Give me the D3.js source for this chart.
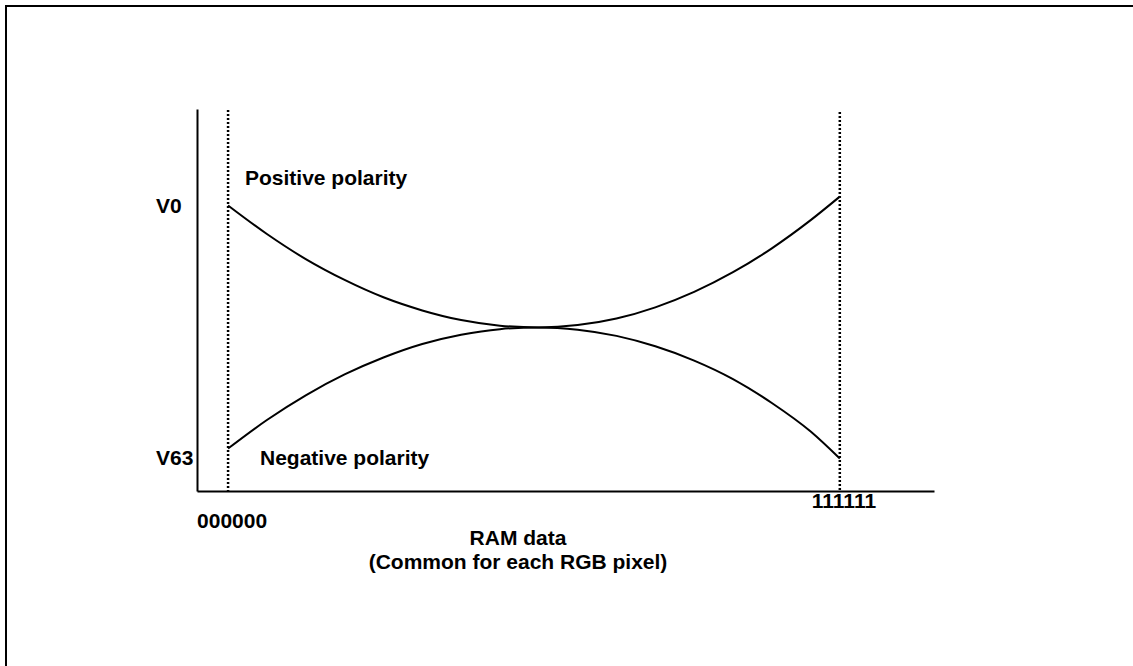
<!DOCTYPE html>
<html>
<head>
<meta charset="utf-8">
<script src="https://cdn.jsdelivr.net/npm/d3@7"></script>
<style>
  html, body { margin: 0; padding: 0; background: #fff; }
  svg { display: block; }
  text { font-family: "Liberation Sans", Arial, sans-serif; font-weight: bold; fill: #000; }
</style>
</head>
<body>
<svg id="chart" width="1133" height="666"></svg>
<script>
// RAM data codes (0 = 000000, 63 = 111111)
const codes = [0, 4, 8, 12, 16, 20, 24, 28, 32, 36, 40, 44, 48, 52, 56, 60, 63];
// Gray-scale level per code; 0 = V0 level, 63 = V63 level
const positive = [0, 7.4, 13.9, 19.3, 23.8, 27.2, 29.7, 31.15, 31.6, 31.0, 29.3, 26.4, 22.4, 17.3, 11.1, 3.8, -2.3];
const negative = [63, 55.6, 49.2, 43.8, 39.4, 35.9, 33.5, 32.05, 31.6, 32.2, 33.8, 36.5, 40.2, 45.0, 51.2, 58.6, 65.6];
const levelLabels = [{ name: "V0", level: 0, dy: 8 }, { name: "V63", level: 63, dy: 16 }];
const codeLabels = [{ name: "000000", code: 0 }, { name: "111111", code: 63 }];
const seriesLabels = ["Positive polarity", "Negative polarity"];
const axisTitle = ["RAM data", "(Common for each RGB pixel)"];

const svg = d3.select("#chart");

// outer frame
svg.append("rect")
  .attr("x", 6).attr("y", 6)
  .attr("width", 1200).attr("height", 800)
  .attr("fill", "none").attr("stroke", "#000").attr("stroke-width", 2);

const x = d3.scaleLinear().domain([-3.2, 72.7]).range([197, 934]);
const y = d3.scaleLinear().domain([-25, 74]).range([109, 491]);

// axes (bare lines, no ticks)
const yAxis = d3.axisLeft(y).tickValues([]).tickSizeOuter(0);
const xAxis = d3.axisBottom(x).tickValues([]).tickSizeOuter(0);
svg.append("g").attr("transform", `translate(${x(-3.2)},0)`).call(yAxis)
  .select(".domain").attr("stroke", "#000").attr("stroke-width", 2);
svg.append("g").attr("transform", `translate(0,${y(74)})`).call(xAxis)
  .select(".domain").attr("stroke", "#000").attr("stroke-width", 2);

// dotted boundaries at the first and last code
[[0, 110], [63, 112]].forEach(([c, top]) => {
  svg.append("line")
    .attr("x1", x(c)).attr("x2", x(c))
    .attr("y1", top).attr("y2", y(74))
    .attr("stroke", "#000").attr("stroke-width", 2.5)
    .attr("stroke-dasharray", "2,2");
});

// gamma curves
const line = d3.line()
  .x((d, i) => x(codes[i]))
  .y(d => y(d))
  .curve(d3.curveMonotoneX);

[positive, negative].forEach(series => {
  svg.append("path")
    .attr("d", line(series))
    .attr("fill", "none")
    .attr("stroke", "#000")
    .attr("stroke-width", 2);
});

const fs = 21;

// level labels
levelLabels.forEach(l => {
  svg.append("text")
    .attr("x", 156).attr("y", y(l.level) + l.dy)
    .attr("font-size", fs)
    .text(l.name);
});

// code labels
svg.append("text").attr("x", x(codeLabels[0].code) - 31).attr("y", 528).attr("font-size", fs).text(codeLabels[0].name);
svg.append("text").attr("x", x(codeLabels[1].code) - 28).attr("y", 508).attr("font-size", fs).text(codeLabels[1].name);

// series labels
svg.append("text").attr("x", 245).attr("y", 185).attr("font-size", fs).text(seriesLabels[0]);
svg.append("text").attr("x", 260).attr("y", 465).attr("font-size", fs).text(seriesLabels[1]);

// axis title
axisTitle.forEach((t, i) => {
  svg.append("text")
    .attr("x", 518).attr("y", 545 + i * 24)
    .attr("text-anchor", "middle")
    .attr("font-size", fs)
    .text(t);
});
</script>
</body>
</html>
